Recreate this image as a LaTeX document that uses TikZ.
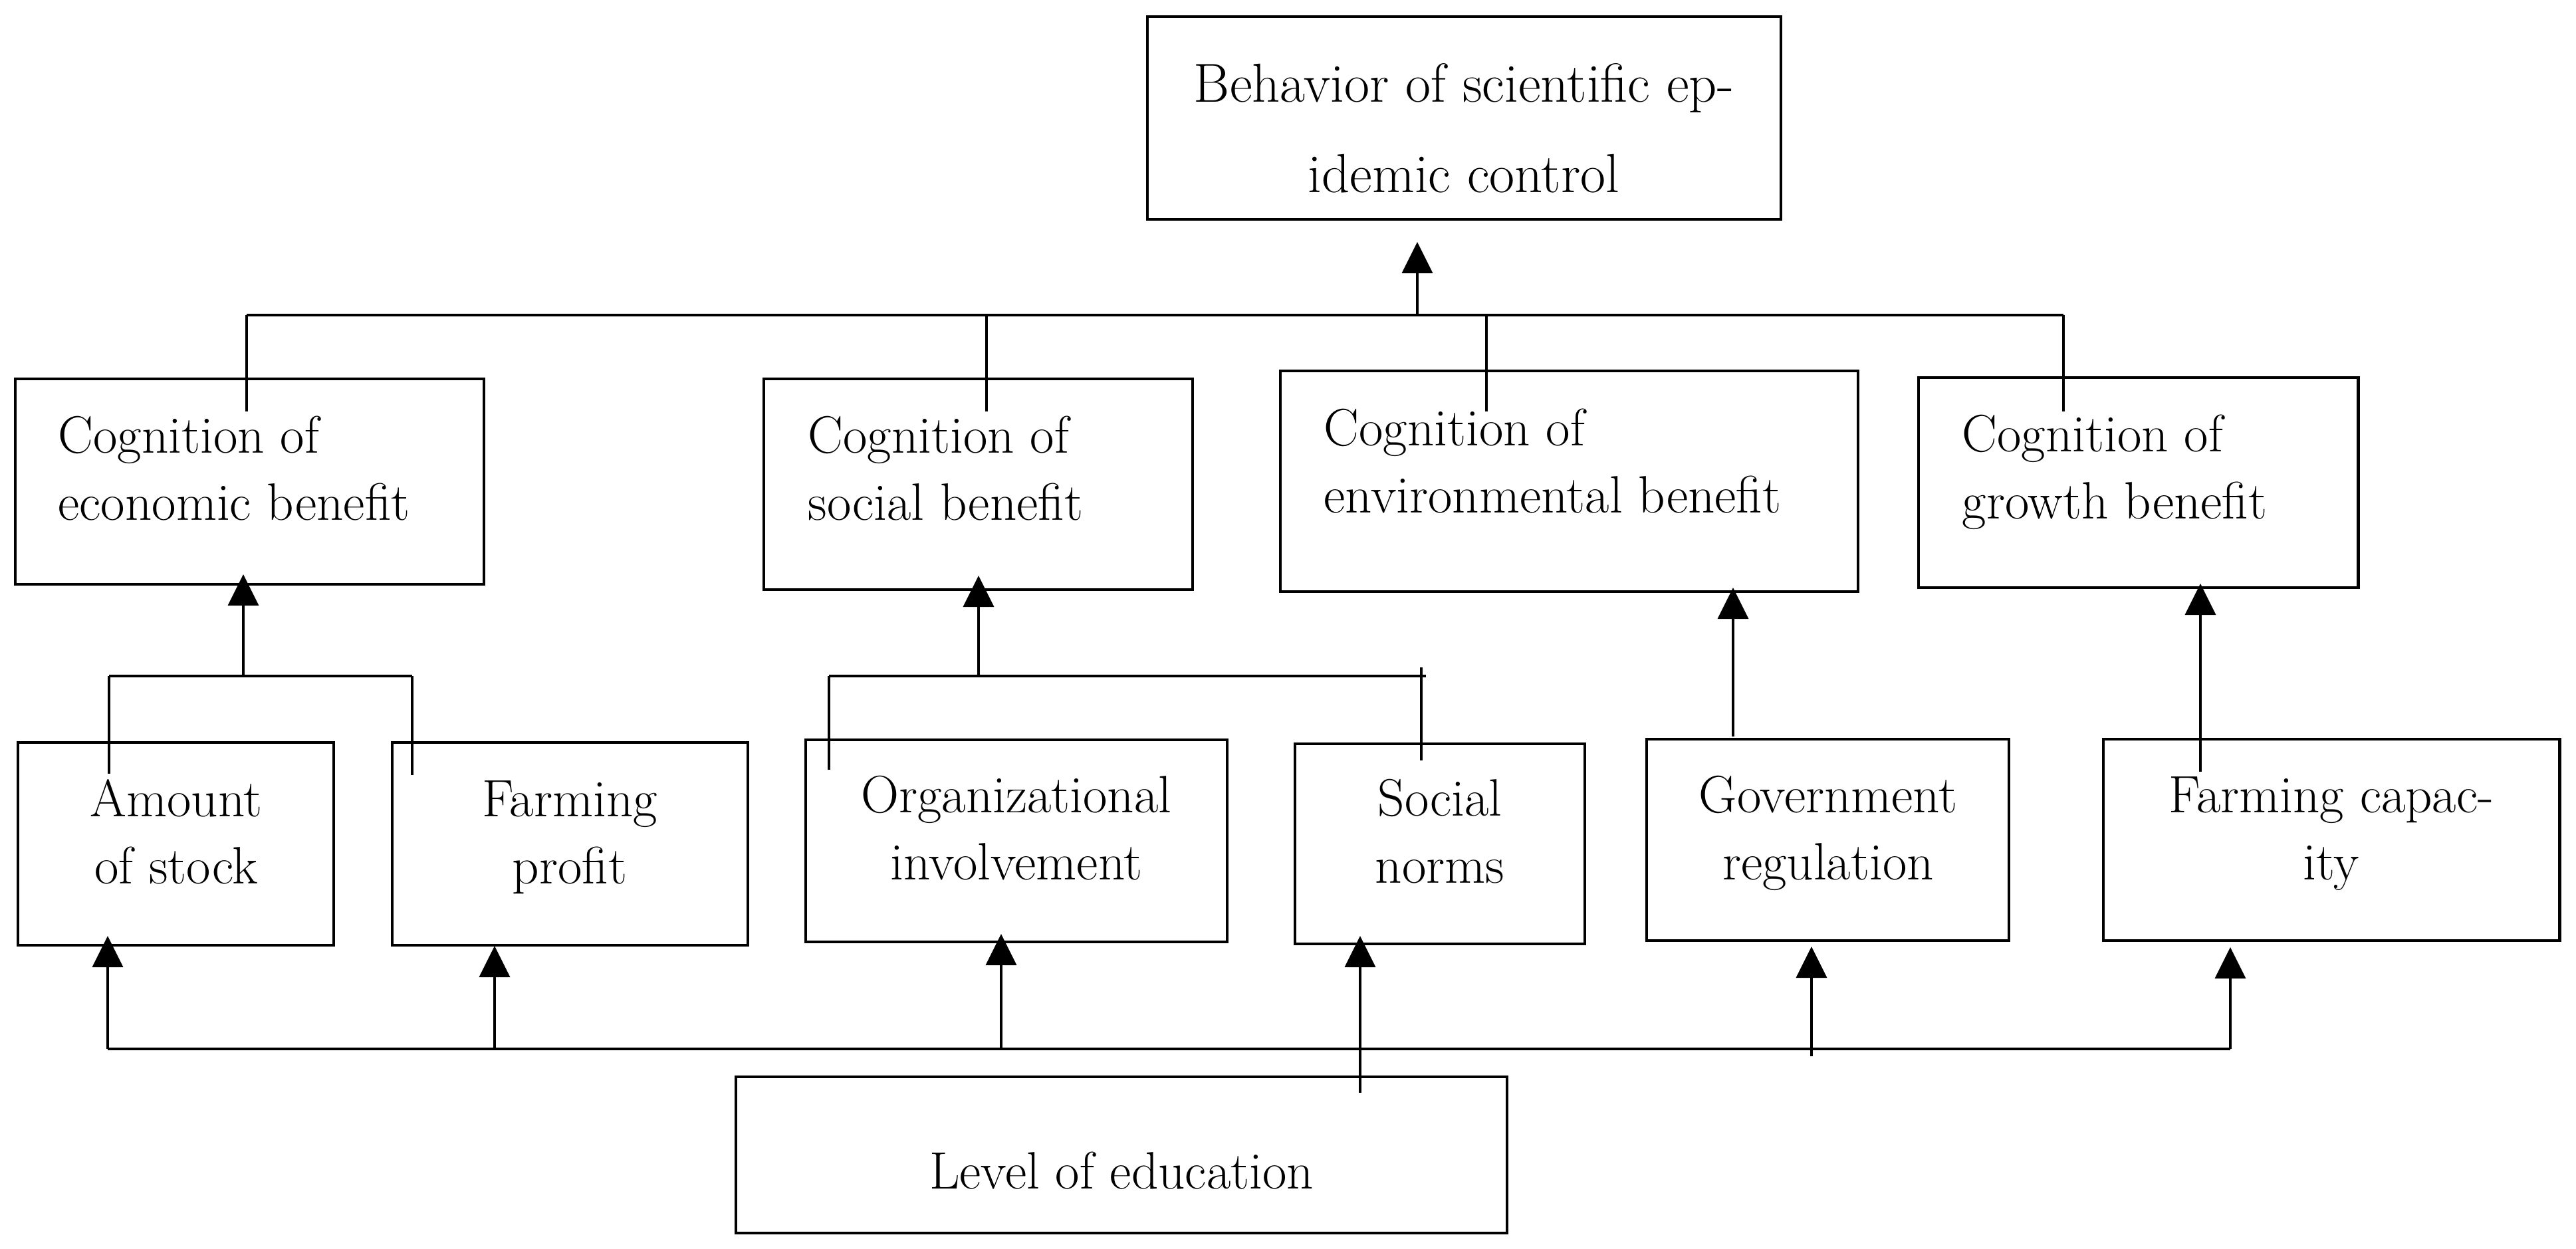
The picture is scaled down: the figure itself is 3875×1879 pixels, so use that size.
\documentclass[tikz,border=0pt]{standalone}
\usetikzlibrary{arrows.meta,fit}
\newcommand{\twol}[3]{\begin{tabular}[t]{@{}#1@{}}#2\\#3\end{tabular}}
\tikzset{
 bx/.style={draw, line width=1.4pt, inner sep=0pt, rectangle},
 ln/.style={line width=1pt},
 bus/.style={line width=1.3pt},
 arr/.style={line width=1pt, -{Triangle[length=0.47cm,width=0.46cm]}},
 tx/.style={font=\fontsize{22.5pt}{28.74pt}\selectfont, inner sep=0pt},
 txt/.style={font=\fontsize{23.5pt}{38.7pt}\selectfont, inner sep=0pt},
}
\begin{document}
\begin{tikzpicture}[x=0.01cm,y=-0.01cm]
\useasboundingbox (0,0) rectangle (3875,1879);
% boxes
\node[bx, fit={(1726,25) (2679,330)}] (t) {};
\node[bx, fit={(23,570) (728,879)}] (ce) {};
\node[bx, fit={(1149,570) (1794,887)}] (cs) {};
\node[bx, fit={(1926,558) (2795,890)}] (cv) {};
\node[bx, fit={(2886,568) (3547,884)}] (cg) {};
\node[bx, fit={(27,1117) (502,1422)}] (ba) {};
\node[bx, fit={(590,1117) (1125,1422)}] (bf) {};
\node[bx, fit={(1212,1113) (1846,1417)}] (bo) {};
\node[bx, fit={(1948,1119) (2384,1420)}] (bn) {};
\node[bx, fit={(2477,1112) (3022,1415)}] (bg) {};
\node[bx, fit={(3164,1112) (3850,1415)}] (bc) {};
\node[bx, fit={(1107,1620) (2267,1855)}] (le) {};
% texts
\node[txt, anchor=base] (t-l) at (2202,153) {\twol{c}{Behavior of scientific ep-}{idemic control}};
\node[tx, anchor=base west] (ce-l) at (87,681) {\twol{l}{Cognition of}{economic benefit}};
\node[tx, anchor=base west] (cs-l) at (1215,681) {\twol{l}{Cognition of}{social benefit}};
\node[tx, anchor=base west] (cv-l) at (1991,670) {\twol{l}{Cognition of}{environmental benefit}};
\node[tx, anchor=base west] (cg-l) at (2951,679) {\twol{l}{Cognition of}{growth benefit}};
\node[tx, anchor=base] (ba-l) at (265,1228) {\twol{c}{Amount}{of stock}};
\node[tx, anchor=base] (bf-l) at (857,1228) {\twol{c}{Farming}{profit}};
\node[tx, anchor=base] (bo-l) at (1529,1222) {\twol{c}{Organizational}{involvement}};
\node[tx, anchor=base] (bn-l) at (2166,1227) {\twol{c}{Social}{norms}};
\node[tx, anchor=base] (bg-l) at (2750,1222) {\twol{c}{Government}{regulation}};
\node[tx, anchor=base] (bc-l) at (3507,1222) {\twol{c}{Farming capac-}{ity}};
\node[tx, anchor=base] (le-l) at (1687,1788) {Level of education};
% junction coordinates
\coordinate (ub1) at (371,474);
\coordinate (ub2) at (1484,474);
\coordinate (ubt) at (2132,474);
\coordinate (ub3) at (2236,474);
\coordinate (ub4) at (3104,474);
\coordinate (ce-in) at (371,619);
\coordinate (cs-in) at (1484,619);
\coordinate (cv-in) at (2236,619);
\coordinate (cg-in) at (3104,619);
\coordinate (t-tip) at (2132,364);
% upper bus
\draw[bus] (ub1) -- (ub4);
\draw[ln] (ub1) -- (ce-in);
\draw[ln] (ub2) -- (cs-in);
\draw[ln] (ub3) -- (cv-in);
\draw[ln] (ub4) -- (cg-in);
\draw[arr] (ubt) -- (t-tip);
% economic group
\coordinate (eb1) at (164,1017);
\coordinate (eb2) at (620,1017);
\coordinate (ebm) at (366,1017);
\coordinate (ba-in) at (164,1164);
\coordinate (bf-in) at (620,1166);
\coordinate (ce-tip) at (366,864);
\draw[bus] (eb1) -- (eb2);
\draw[ln] (eb1) -- (ba-in);
\draw[ln] (eb2) -- (bf-in);
\draw[arr] (ebm) -- (ce-tip);
% social group
\coordinate (sb1) at (1247,1017);
\coordinate (sb2) at (2145,1017);
\coordinate (sbm) at (1472,1017);
\coordinate (sbt) at (2138,1004);
\coordinate (bo-in) at (1247,1158);
\coordinate (bn-in) at (2138,1144);
\coordinate (cs-tip) at (1472,866);
\draw[bus] (sb1) -- (sb2);
\draw[ln] (sb1) -- (bo-in);
\draw[ln] (sbt) -- (bn-in);
\draw[arr] (sbm) -- (cs-tip);
% environmental and growth
\coordinate (bg-out) at (2607,1108);
\coordinate (cv-tip) at (2607,884);
\coordinate (bc-out) at (3310,1161);
\coordinate (cg-tip) at (3310,878);
\draw[arr] (bg-out) -- (cv-tip);
\draw[arr] (bc-out) -- (cg-tip);
% bottom bus
\coordinate (lb1) at (162,1578);
\coordinate (lb2) at (744,1578);
\coordinate (lb3) at (1506,1578);
\coordinate (lb5) at (2725,1578);
\coordinate (lb6) at (3355,1578);
\coordinate (le-out) at (2046,1644);
\coordinate (ba-tip) at (162,1408);
\coordinate (bf-tip) at (744,1423);
\coordinate (bo-tip) at (1506,1405);
\coordinate (bn-tip) at (2046,1408);
\coordinate (bg-tip) at (2725,1424);
\coordinate (bc-tip) at (3355,1425);
\draw[bus] (lb1) -- (lb6);
\draw[arr] (lb1) -- (ba-tip);
\draw[arr] (lb2) -- (bf-tip);
\draw[arr] (lb3) -- (bo-tip);
\draw[arr] (le-out) -- (bn-tip);
\draw[arr] ([yshift=-0.11cm]lb5) -- (bg-tip);
\draw[arr] (lb6) -- (bc-tip);
\end{tikzpicture}
\end{document}
